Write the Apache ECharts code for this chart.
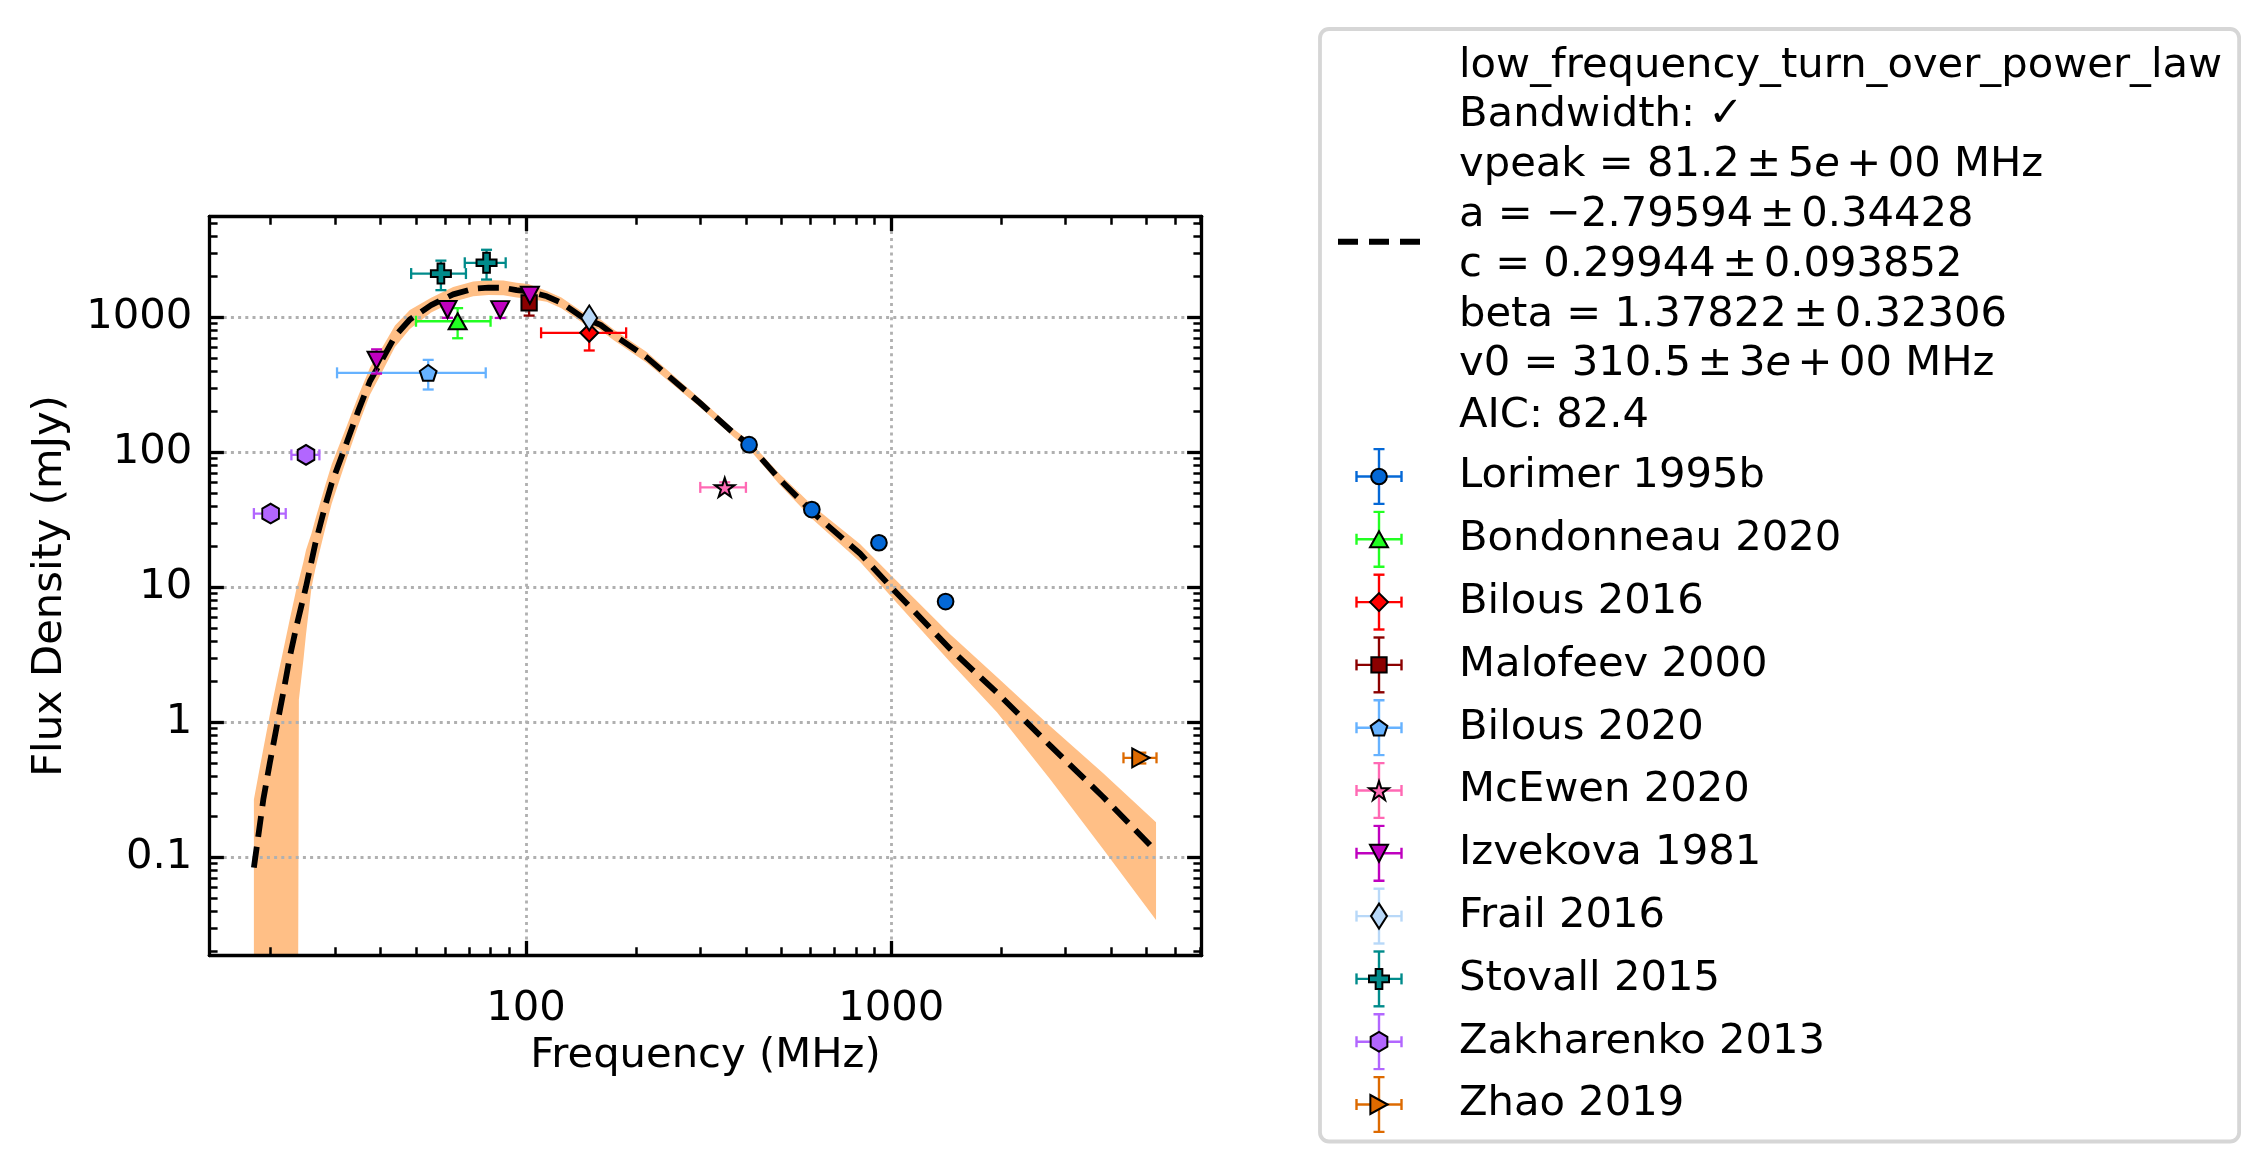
<!DOCTYPE html>
<html>
<head>
<meta charset="utf-8">
<title>Spectrum fit</title>
<script src="https://cdn.jsdelivr.net/npm/echarts@6/dist/echarts.min.js"></script>
<style>
  html, body { margin: 0; padding: 0; background: #fff; }
  #main { width: 2263px; height: 1172px; }
</style>
</head>
<body>
<div id="main"></div>
<script>
// fitted model (MHz, mJy)
const fitFreq = [18, 18.5, 19.1, 19.9, 20.8, 21.7, 22.6, 23.6, 25, 26.5, 28.2, 29.4, 32.3, 34.7, 37.4, 40.3, 43.8, 48.1, 55, 63.2, 71.7, 79, 86.7, 94.3, 101.5, 114, 125, 143.5, 160, 173.5, 214, 299, 370, 408, 495, 611, 821, 1014, 1449, 1946, 2718, 3802, 5304];
const fitFlux = [0.084, 0.143, 0.268, 0.5, 0.94, 1.7, 3.1, 5.3, 10.1, 21, 40, 59, 118, 201, 336, 480, 724, 964, 1230, 1480, 1626, 1660, 1655, 1590, 1555, 1432, 1280, 991, 880, 745, 505, 233, 139, 114, 63, 35.6, 17.8, 9.6, 3.5, 1.66, 0.675, 0.28, 0.111];

// uncertainty band (lower edge sits on the axis floor below ~24 MHz)
const bandFreq = [18, 18.5, 19.1, 19.9, 20.8, 21.7, 22.6, 23.6, 23.8, 23.9, 24.6, 25, 25.9, 26.5, 28.2, 29.4, 32.3, 34.7, 37.4, 40.3, 43.8, 48.1, 55, 63.2, 71.7, 79, 86.7, 94.3, 101.5, 114, 125, 143.5, 160, 173.5, 214, 299, 370, 408, 495, 611, 821, 1014, 1449, 1946, 2718, 3802, 5304];
const bandHigh = [0.268, 0.4, 0.635, 1.14, 2.03, 3.5, 5.9, 10.1, 10.8, 11.3, 15.5, 18.9, 25.3, 31.8, 56.5, 81.5, 156, 259, 423, 590, 870, 1133, 1396, 1680, 1846, 1884, 1878, 1805, 1765, 1570, 1403, 1086, 965, 817, 553, 250, 149, 122, 69, 39.9, 20.9, 11.8, 4.5, 2.17, 0.94, 0.42, 0.182];
const bandLow = [0.0188, 0.0188, 0.0188, 0.0188, 0.0188, 0.0188, 0.0188, 0.0188, 0.0188, 1.47, 2.92, 4.5, 10.1, 13.6, 27, 41.8, 89.6, 156, 267, 390, 602, 820, 1084, 1304, 1433, 1463, 1458, 1401, 1370, 1306, 1167, 904, 803, 679, 461, 217, 130, 106, 57.5, 31.7, 15.5, 8.17, 2.8, 1.19, 0.38, 0.115, 0.0343];

// measurements: [freq MHz, flux mJy, freq err, flux err]
const lorimer1995b = [[408, 114, 0, 9], [606, 37.7, 0, 3], [925, 21.4, 0, 1.7], [1408, 7.85, 0, 0.6]];
const bondonneau2020 = [[65, 935, 15, 235]];
const bilous2016 = [[149, 768, 39, 200]];
const malofeev2000 = [[102, 1280, 0, 250]];
const bilous2020 = [[54, 388, 23.6, 96]];
const mcewen2020 = [[350, 55, 50, 5]];
const izvekova1981 = [[39, 481, 0, 98], [61, 1142, 0, 150], [85, 1140, 0, 150], [102.5, 1458, 0, 120]];
const frail2016 = [[149, 990, 0, 60]];
const stovall2015 = [[58.5, 2110, 10, 520], [78, 2535, 10, 630]];
const zakharenko2013 = [[20, 35.2, 2, 3], [25, 95.8, 2.2, 8]];
const zhao2019 = [[4820, 0.546, 500, 0.05]];

// ticks
const xMajor = [100, 1000];
const xMinor = [20, 30, 40, 50, 60, 70, 80, 90, 200, 300, 400, 500, 600, 700, 800, 900, 2000, 3000, 4000, 5000, 6000, 7000];
const yMajor = [0.1, 1, 10, 100, 1000];
const yMinor = [0.02, 0.03, 0.04, 0.05, 0.06, 0.07, 0.08, 0.09, 0.2, 0.3, 0.4, 0.5, 0.6, 0.7, 0.8, 0.9, 2, 3, 4, 5, 6, 7, 8, 9, 20, 30, 40, 50, 60, 70, 80, 90, 200, 300, 400, 500, 600, 700, 800, 900, 2000, 3000, 4000, 5000];
const xExtent = [13.59, 7073];
const yExtent = [0.01875, 5583];

const FONT = 'DejaVu Sans';
const FS = 41.7;
const LH = 49.8;

const catalogues = [
  { name: 'Lorimer 1995b', rows: lorimer1995b, color: '#0468d6', shape: 'circle', size: [17.7, 17.7] },
  { name: 'Bondonneau 2020', rows: bondonneau2020, color: '#22ff22', shape: 'triUp', size: [20, 18] },
  { name: 'Bilous 2016', rows: bilous2016, color: '#ff0000', shape: 'diamond', size: [20, 20] },
  { name: 'Malofeev 2000', rows: malofeev2000, color: '#8b0000', shape: 'square', size: [17.3, 17.3] },
  { name: 'Bilous 2020', rows: bilous2020, color: '#66b2ff', shape: 'pentagon', size: [18.7, 17.7] },
  { name: 'McEwen 2020', rows: mcewen2020, color: '#ff69b4', shape: 'star', size: [21.7, 21] },
  { name: 'Izvekova 1981', rows: izvekova1981, color: '#bf00bf', shape: 'triDown', size: [20, 19] },
  { name: 'Frail 2016', rows: frail2016, color: '#b8d8f8', shape: 'diamond', size: [18, 27] },
  { name: 'Stovall 2015', rows: stovall2015, color: '#008b8b', shape: 'plus', size: [22, 22] },
  { name: 'Zakharenko 2013', rows: zakharenko2013, color: '#b266ff', shape: 'hexagon', size: [18.7, 21.7] },
  { name: 'Zhao 2019', rows: zhao2019, color: '#dd6a00', shape: 'triRight', size: [19.3, 21] },
];

const fitLabel = [
  'low_frequency_turn_over_power_law',
  'Bandwidth: \u2713',
  'vpeak = 81.2{pm|\u00b1}5{it|e}{pm|+}00 MHz',
  'a = \u22122.79594{pm|\u00b1}0.34428',
  'c = 0.29944{pm|\u00b1}0.093852',
  'beta = 1.37822{pm|\u00b1}0.32306',
  'v0 = 310.5{pm|\u00b1}3{it|e}{pm|+}00 MHz',
  '{last|AIC: 82.4}',
].join('\n');

function fitBox(pts) {
  const xs = pts.map(p => p[0]), ys = pts.map(p => p[1]);
  const x0 = Math.min(...xs), x1 = Math.max(...xs), y0 = Math.min(...ys), y1 = Math.max(...ys);
  return pts.map(([x, y]) => [(2 * (x - x0)) / (x1 - x0) - 1, (2 * (y - y0)) / (y1 - y0) - 1]);
}
function ring(n, r1, r2) {
  const pts = [];
  for (let k = 0; k < n; k++) {
    const a = -Math.PI / 2 + (2 * Math.PI * k) / n;
    const r = k % 2 ? r2 : r1;
    pts.push([r * Math.cos(a), r * Math.sin(a)]);
  }
  return fitBox(pts);
}
const shapePts = {
  triUp: [[0, -1], [1, 1], [-1, 1]],
  triDown: [[-1, -1], [1, -1], [0, 1]],
  triRight: [[-1, -1], [1, 0], [-1, 1]],
  diamond: [[0, -1], [1, 0], [0, 1], [-1, 0]],
  square: [[-1, -1], [1, -1], [1, 1], [-1, 1]],
  pentagon: ring(5, 1, 1),
  hexagon: ring(6, 1, 1),
  star: ring(10, 1, 0.382),
  plus: fitBox([[-1, -3], [1, -3], [1, -1], [3, -1], [3, 1], [1, 1], [1, 3], [-1, 3], [-1, 1], [-3, 1], [-3, -1], [-1, -1]]),
};
const symbolOf = kind =>
  kind === 'circle' ? 'circle'
    : 'path://M' + shapePts[kind].map(p => p.map(v => v.toFixed(4)).join(',')).join(' L') + ' Z';

// legend icons: errorbar cross + marker, drawn as small svg images
const IW = 116, IH = 58;
const svgUri = body => 'image://data:image/svg+xml;charset=utf-8,' + encodeURIComponent(
  `<svg xmlns='http://www.w3.org/2000/svg' width='${IW}' height='${IH}' viewBox='0 0 ${IW} ${IH}'>${body}</svg>`);
function legendIcon(c) {
  const cx = 41, cy = IH / 2, hw = 22.5, cap = 5.5, t = 1.6, b = IH - 1.6;
  const w = c.size[0] / 2 - 1, h = c.size[1] / 2 - 1;
  const bars =
    `<g stroke='${c.color}' stroke-width='2.4'>` +
    `<line x1='${cx - hw}' y1='${cy}' x2='${cx + hw}' y2='${cy}'/>` +
    `<line x1='${cx}' y1='${t}' x2='${cx}' y2='${b}'/>` +
    `<line x1='${cx - hw}' y1='${cy - cap}' x2='${cx - hw}' y2='${cy + cap}'/>` +
    `<line x1='${cx + hw}' y1='${cy - cap}' x2='${cx + hw}' y2='${cy + cap}'/>` +
    `<line x1='${cx - cap}' y1='${t}' x2='${cx + cap}' y2='${t}'/>` +
    `<line x1='${cx - cap}' y1='${b}' x2='${cx + cap}' y2='${b}'/></g>`;
  const marker = c.shape === 'circle'
    ? `<ellipse cx='${cx}' cy='${cy}' rx='${w}' ry='${h}'/>`
    : `<polygon points='${shapePts[c.shape].map(p => (cx + p[0] * w).toFixed(2) + ',' + (cy + p[1] * h).toFixed(2)).join(' ')}'/>`;
  return svgUri(bars + `<g fill='${c.color}' stroke='#000' stroke-width='2'>${marker}</g>`);
}
const fitIcon = svgUri(`<line x1='0' y1='${IH / 2}' x2='82' y2='${IH / 2}' stroke='#000' stroke-width='5.8' stroke-dasharray='20 11'/>`);

function errorBars(color) {
  return function (params, api) {
    const f = api.value(0), s = api.value(1), fe = api.value(2), se = api.value(3);
    const c = api.coord([f, s]);
    const st = { stroke: color, lineWidth: 2.3 };
    const cap = 5.5;
    const kids = [];
    const seg = (x1, y1, x2, y2) => kids.push({ type: 'line', shape: { x1, y1, x2, y2 }, style: st });
    if (fe > 0) {
      const a = api.coord([f - fe, s])[0], b = api.coord([f + fe, s])[0];
      seg(a, c[1], b, c[1]);
      seg(a, c[1] - cap, a, c[1] + cap);
      seg(b, c[1] - cap, b, c[1] + cap);
    }
    if (se > 0) {
      const a = api.coord([f, s - se])[1], b = api.coord([f, s + se])[1];
      seg(c[0], a, c[0], b);
      seg(c[0] - cap, a, c[0] + cap, a);
      seg(c[0] - cap, b, c[0] + cap, b);
    }
    return { type: 'group', children: kids };
  };
}

// one polygon: upper edge forward, lower edge back
function bandShape(params, api) {
  if (params.dataIndex !== 0) return null;
  const up = bandFreq.map((f, i) => api.coord([f, bandHigh[i]]));
  const lo = bandFreq.map((f, i) => api.coord([f, bandLow[i]])).reverse();
  return { type: 'polygon', shape: { points: up.concat(lo) }, style: { fill: '#ffbf86' } };
}

function logAxis(ext, position, ticks, len, width, extra) {
  return Object.assign({
    type: 'log', logBase: 10, position, gridIndex: 0, min: ext[0], max: ext[1], z: 1.5, silent: true,
    axisLine: { show: false, onZero: false },
    axisTick: { show: true, inside: true, length: len, lineStyle: { color: '#000', width }, customValues: ticks },
    axisLabel: { show: false },
    splitLine: { show: false },
    minorTick: { show: false },
    minorSplitLine: { show: false },
  }, extra);
}
const spine = { show: true, onZero: false, lineStyle: { color: '#000', width: 3.3 } };
const grid = { show: true, lineStyle: { color: '#b0b0b0', width: 2.8, type: [3, 4.2] } };
const tickText = { fontFamily: FONT, fontSize: FS, color: '#000' };

const xAxis = [
  logAxis(xExtent, 'bottom', xMajor, 14.6, 3.3, {
    axisLine: spine, splitLine: grid,
    axisLabel: Object.assign({ show: true, customValues: xMajor, margin: 33, formatter: v => String(v) }, tickText),
    name: 'Frequency (MHz)', nameLocation: 'middle', nameGap: 64, nameTextStyle: tickText,
  }),
  logAxis(xExtent, 'bottom', xMinor, 8.3, 2.5),
  logAxis(xExtent, 'top', xMajor, 14.6, 3.3, { axisLine: spine }),
  logAxis(xExtent, 'top', xMinor, 8.3, 2.5),
];
const yAxis = [
  logAxis(yExtent, 'left', yMajor, 14.6, 3.3, {
    axisLine: spine, splitLine: grid,
    axisLabel: Object.assign({ show: true, customValues: yMajor, margin: 17, formatter: v => String(v) }, tickText),
    name: 'Flux Density (mJy)', nameLocation: 'middle', nameRotate: 90, nameGap: 138, nameTextStyle: tickText,
  }),
  logAxis(yExtent, 'left', yMinor, 8.3, 2.5),
  logAxis(yExtent, 'right', yMajor, 14.6, 3.3, { axisLine: spine }),
  logAxis(yExtent, 'right', yMinor, 8.3, 2.5),
];

const series = [
  {
    type: 'custom', name: 'band', z: 1, silent: true, renderItem: bandShape,
    encode: { x: 0, y: [1, 2] },
    data: bandFreq.map((f, i) => [f, bandLow[i], bandHigh[i]]),
  },
  {
    type: 'line', name: 'fit', z: 2, symbol: 'none',
    lineStyle: { color: '#000', width: 5.8, type: [21, 10] },
    data: fitFreq.map((f, i) => [f, fitFlux[i]]),
  },
];
catalogues.forEach(c => {
  series.push({
    type: 'custom', name: c.name, z: 3, renderItem: errorBars(c.color),
    encode: { x: 0, y: 1 }, data: c.rows,
  });
  series.push({
    type: 'scatter', name: c.name, z: 3,
    symbol: symbolOf(c.shape), symbolSize: c.size.map(v => v - 2),
    itemStyle: { color: c.color, borderColor: '#000', borderWidth: 2, opacity: 1 },
    encode: { x: 0, y: 1 }, data: c.rows,
  });
});

const chart = echarts.init(document.getElementById('main'), null, { renderer: 'canvas' });
chart.setOption({
  animation: false,
  backgroundColor: '#fff',
  grid: { left: 209.3, top: 216.5, width: 992.4, height: 739, outerBoundsMode: 'none', containLabel: false },
  xAxis,
  yAxis,
  legend: {
    orient: 'vertical', left: 1320, top: 29, selectedMode: false,
    padding: [11.8, 17, 8, 18], itemWidth: IW, itemHeight: IH, itemGap: 4.8,
    backgroundColor: '#fff', borderColor: '#d6d6d6', borderWidth: 3.8, borderRadius: 9,
    textStyle: {
      fontFamily: FONT, fontSize: FS, color: '#000', lineHeight: LH,
      rich: {
        it: { fontFamily: FONT, fontSize: FS, fontStyle: 'italic', lineHeight: LH },
        pm: { fontFamily: FONT, fontSize: FS, lineHeight: LH, padding: [0, 6.5, 0, 6.5] },
        last: { fontFamily: FONT, fontSize: FS, lineHeight: LH + 3.5 },
      },
    },
    formatter: name => (name === 'fit' ? fitLabel : name),
    data: [{ name: 'fit', icon: fitIcon }].concat(catalogues.map(c => ({ name: c.name, icon: legendIcon(c) }))),
  },
  series,
});
</script>
</body>
</html>
